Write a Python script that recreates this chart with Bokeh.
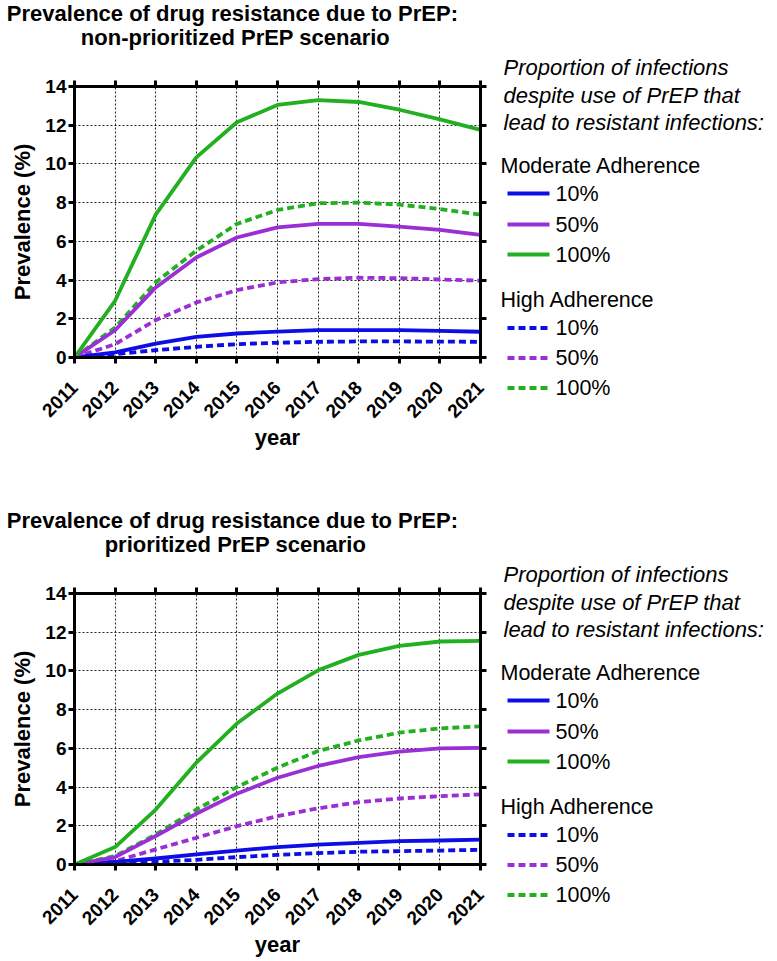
import math
from bokeh.plotting import figure
from bokeh.models import Range1d, LinearAxis, FixedTicker, Grid
from bokeh.layouts import column, row
from bokeh.embed import file_html
from bokeh.resources import INLINE
from bokeh.core.properties import value

FONT = "Liberation Sans"

# ---------------- data ----------------
years = [2011, 2012, 2013, 2014, 2015, 2016, 2017, 2018, 2019, 2020, 2021]
y_ticks = [0, 2, 4, 6, 8, 10, 12, 14]

# non-prioritized PrEP scenario
np_mod_10 = [0, 0.26, 0.72, 1.07, 1.24, 1.34, 1.41, 1.41, 1.41, 1.38, 1.33]
np_mod_50 = [0, 1.41, 3.62, 5.17, 6.20, 6.72, 6.90, 6.90, 6.76, 6.59, 6.34]
np_mod_100 = [0, 2.93, 7.38, 10.34, 12.15, 13.05, 13.30, 13.20, 12.80, 12.30, 11.76]
np_high_10 = [0, 0.17, 0.38, 0.55, 0.69, 0.76, 0.81, 0.83, 0.83, 0.82, 0.81]
np_high_50 = [0, 0.69, 1.93, 2.84, 3.48, 3.88, 4.05, 4.12, 4.10, 4.03, 3.97]
np_high_100 = [0, 1.55, 3.88, 5.52, 6.90, 7.62, 7.97, 8.00, 7.90, 7.67, 7.38]

# prioritized PrEP scenario
p_mod_10 = [0, 0.14, 0.31, 0.52, 0.72, 0.90, 1.03, 1.12, 1.21, 1.24, 1.28]
p_mod_50 = [0, 0.38, 1.47, 2.62, 3.66, 4.48, 5.09, 5.55, 5.83, 6.00, 6.03]
p_mod_100 = [0, 0.90, 2.84, 5.26, 7.28, 8.83, 10.03, 10.83, 11.29, 11.52, 11.55]
p_high_10 = [0, 0.05, 0.14, 0.24, 0.38, 0.50, 0.59, 0.66, 0.69, 0.72, 0.76]
p_high_50 = [0, 0.17, 0.78, 1.38, 1.98, 2.50, 2.90, 3.22, 3.41, 3.53, 3.62]
p_high_100 = [0, 0.43, 1.55, 2.84, 4.00, 5.00, 5.86, 6.41, 6.81, 7.03, 7.14]

title_line1 = "Prevalence of  drug resistance due to PrEP:"
title_top_line2 = "non-prioritized PrEP scenario"
title_bottom_line2 = "prioritized PrEP scenario"
x_label = "year"
y_label = "Prevalence (%)"
legend_heading = ["Proportion of infections", "despite use of PrEP that", "lead to resistant infections:"]
groups = ["Moderate Adherence", "High Adherence"]
pct_labels = ["10%", "50%", "100%"]
colors = ["#0d0de6", "#9a2fd6", "#22b022"]
dashes = ["solid", "7 4"]

# ---------------- layout constants (pixels) ----------------
PAGE_W = 777
TITLE_H = 54
MAIN_W = 492
LEG_W = PAGE_W - MAIN_W
BORDER_L = 74
FRAME_W = 406
FRAME_H = 271
BORDER_T = 32


def bare_fig(w, h):
    f = figure(width=w, height=h, x_range=Range1d(0, w), y_range=Range1d(h, 0),
               output_backend="svg", toolbar_location=None,
               x_axis_location=None, y_axis_location=None, title_location=None,
               min_border=0, outline_line_color=None, frame_align=False)
    f.grid.visible = False
    return f


def title_fig(line2):
    f = bare_fig(PAGE_W, TITLE_H)
    f.text(x=[235, 235], y=[13, 37], text=[title_line1, line2],
           text_align="center", text_baseline="middle",
           text_font=value(FONT), text_font_size=value("22px"),
           text_font_style="bold", text_color="black")
    return f


def style_axis(ax, show_labels):
    ax.axis_line_width = 3
    ax.axis_line_color = "black"
    ax.major_tick_line_width = 3
    ax.major_tick_line_color = "black"
    ax.major_tick_out = 6
    ax.major_tick_in = 0
    ax.minor_tick_line_color = None
    ax.major_label_text_font = FONT
    ax.major_label_text_font_style = "bold"
    if show_labels:
        ax.major_label_text_color = "black"
        ax.major_label_text_font_size = "19px"
    else:
        ax.major_label_text_color = None
        ax.major_label_text_font_size = "0px"
        ax.major_label_standoff = 0
    ax.axis_label_text_font = FONT
    ax.axis_label_text_font_style = "bold"
    ax.axis_label_text_font_size = "22px"
    ax.axis_label_text_color = "black"


def main_fig(series, height):
    p = figure(width=MAIN_W, height=height,
               x_range=Range1d(2011, 2021), y_range=Range1d(0, 14),
               output_backend="svg", toolbar_location=None,
               x_axis_location=None, y_axis_location=None, title_location=None,
               min_border_left=BORDER_L, min_border_right=MAIN_W - BORDER_L - FRAME_W,
               min_border_top=BORDER_T, min_border_bottom=height - BORDER_T - FRAME_H,
               outline_line_color=None, frame_align=False)
    p.grid.visible = False
    p.add_layout(Grid(dimension=0, ticker=FixedTicker(ticks=years),
                      grid_line_color="#222222", grid_line_dash="2 2", grid_line_width=1))
    p.add_layout(Grid(dimension=1, ticker=FixedTicker(ticks=y_ticks),
                      grid_line_color="#222222", grid_line_dash="2 2", grid_line_width=1))

    bottom = LinearAxis(ticker=FixedTicker(ticks=years), axis_label=x_label)
    style_axis(bottom, True)
    bottom.major_label_orientation = math.pi / 4
    bottom.major_label_standoff = 21
    bottom.axis_label_standoff = -2
    p.add_layout(bottom, "below")

    left = LinearAxis(ticker=FixedTicker(ticks=y_ticks), axis_label=y_label)
    style_axis(left, True)
    left.major_label_standoff = 2
    left.axis_label_standoff = 7
    p.add_layout(left, "left")

    top = LinearAxis(ticker=FixedTicker(ticks=years))
    style_axis(top, False)
    p.add_layout(top, "above")

    right = LinearAxis(ticker=FixedTicker(ticks=y_ticks))
    style_axis(right, False)
    p.add_layout(right, "right")

    # dashed (high adherence) first, then solid (moderate adherence)
    for gi in (1, 0):
        for ci in range(3):
            p.line(years, series[gi][ci], line_color=colors[ci], line_width=3.8,
                   line_dash=dashes[gi], line_join="round")
    return p


def legend_fig(height):
    f = bare_fig(LEG_W, height)
    f.text(x=[11, 11, 11], y=[13, 40.5, 68], text=legend_heading,
           text_align="left", text_baseline="middle",
           text_font=value(FONT), text_font_size=value("22px"),
           text_font_style="italic", text_color="black")
    header_y = [111.5, 245]
    item_y = [[139, 170, 200], [273.5, 303.5, 333.5]]
    f.text(x=[8, 8], y=header_y, text=groups, text_align="left", text_baseline="middle",
           text_font=value(FONT), text_font_size=value("21.5px"), text_color="black")
    for gi in range(2):
        for ci in range(3):
            yy = item_y[gi][ci]
            f.line([15, 57], [yy, yy], line_color=colors[ci], line_width=3.8,
                   line_dash=dashes[gi])
        f.text(x=[63, 63, 63], y=item_y[gi], text=pct_labels, text_align="left",
               text_baseline="middle", text_font=value(FONT),
               text_font_size=value("21.5px"), text_color="black")
    return f


top_series = [[np_mod_10, np_mod_50, np_mod_100], [np_high_10, np_high_50, np_high_100]]
bot_series = [[p_mod_10, p_mod_50, p_mod_100], [p_high_10, p_high_50, p_high_100]]

H1 = 507 - TITLE_H
H2 = 961 - 507 - TITLE_H

chart1 = column(title_fig(title_top_line2),
                row(main_fig(top_series, H1), legend_fig(H1)))
chart2 = column(title_fig(title_bottom_line2),
                row(main_fig(bot_series, H2), legend_fig(H2)))
layout = column(chart1, chart2)

open("out.html", "w").write(file_html(layout, INLINE))
